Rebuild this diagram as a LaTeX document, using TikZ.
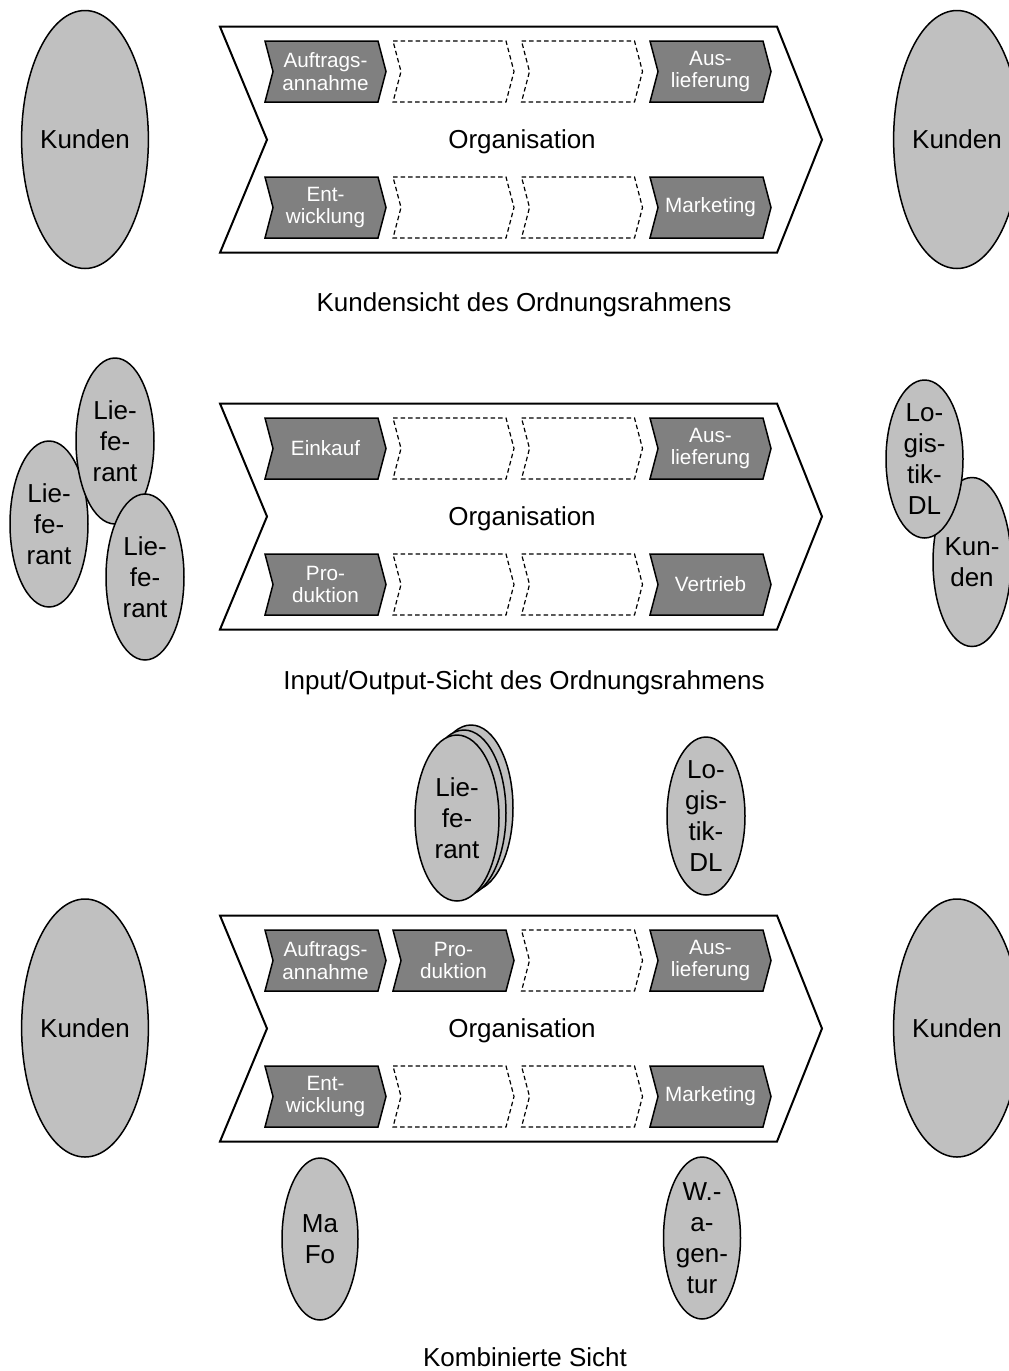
\documentclass[tikz,border=0pt]{standalone}
\usepackage{fontspec}
\setmainfont{Liberation Sans}
\usetikzlibrary{shapes.geometric}
\definecolor{boxgray}{HTML}{808080}
\definecolor{ovalgray}{HTML}{C0C0C0}
\tikzset{
  frame/.style={draw=black, line width=2pt, fill=white, line join=miter},
  activity/.style={draw=black, line width=1.5pt, fill=boxgray, line join=miter},
  placeholder/.style={draw=black, line width=1.2pt, dash pattern=on 4.5pt off 3pt, fill=white},
  boxtext/.style={text=white, font=\fontsize{20.7}{22.7}\selectfont, align=center, inner sep=0pt},
  oval/.style={ellipse, draw=black, line width=1.5pt, fill=ovalgray, inner sep=0pt,
    font=\fontsize{26}{31}\selectfont, align=center},
  bigtext/.style={font=\fontsize{26}{31}\selectfont, inner sep=0pt},
  caption/.style={font=\fontsize{26}{31}\selectfont, inner sep=0pt, anchor=base},
}
% process step: #1 name, #2 left x, #3 centre y, #4 style, #5 label
\newcommand\procstep[5]{%
  \draw[#4] (#2,#3-30.5) -- ++(113,0) -- ++(8,30.5) -- ++(-8,30.5) -- ++(-113,0) -- ++(8,-30.5) -- cycle;
  \node[boxtext] (#1) at (#2+60.5,#3) {#5};}
% organisation arrow: #1 name, #2 centre y
\newcommand\orgarrow[2]{%
  \draw[frame] (220,#2-113) -- (777,#2-113) -- (822,#2) -- (777,#2+113) -- (220,#2+113) -- (267,#2) -- cycle;
  \node[bigtext] (#1) at (522,#2+1.8) {Organisation};}
\begin{document}
\begin{tikzpicture}[x=1pt,y=-1pt]
\clip (0,0) rectangle (1009,1371);
\fill[white] (0,0) rectangle (1009,1371);

% ---------- Kundensicht ----------
\node[oval, minimum width=120pt, minimum height=258pt] (kundenLa) at (85,139.5) {Kunden};
\node[oval, minimum width=120pt, minimum height=258pt] (kundenRa) at (957,139.5) {Kunden};
\orgarrow{orga}{139.7}
\procstep{a11}{265}{71.5}{activity}{Auftrags-\\annahme}
\procstep{a12}{393}{71.5}{placeholder}{}
\procstep{a13}{521.5}{71.5}{placeholder}{}
\procstep{a14}{650}{71.5}{activity}{Aus-\\lieferung}
\procstep{a21}{265}{207.5}{activity}{Ent-\\wicklung}
\procstep{a22}{393}{207.5}{placeholder}{}
\procstep{a23}{521.5}{207.5}{placeholder}{}
\procstep{a24}{650}{207.5}{activity}{Marketing}
\node[caption] (capa) at (524,311.7) {Kundensicht des Ordnungsrahmens};

% ---------- Input/Output-Sicht ----------
\node[oval, minimum width=78pt, minimum height=166pt] (liefL) at (49,524) {Lie-\\fe-\\rant};
\node[oval, minimum width=78pt, minimum height=166pt] (liefT) at (115,441) {Lie-\\fe-\\rant};
\node[oval, minimum width=78pt, minimum height=166pt] (liefR) at (145,577) {Lie-\\fe-\\rant};
\node[oval, minimum width=78pt, minimum height=169pt] (kundenRb) at (972,562) {Kun-\\den};
\node[oval, minimum width=77pt, minimum height=158pt] (logb) at (924.5,459) {Lo-\\gis-\\tik-\\DL};
\orgarrow{orgb}{516.5}
\procstep{b11}{265}{448.5}{activity}{Einkauf}
\procstep{b12}{393}{448.5}{placeholder}{}
\procstep{b13}{521.5}{448.5}{placeholder}{}
\procstep{b14}{650}{448.5}{activity}{Aus-\\lieferung}
\procstep{b21}{265}{584.5}{activity}{Pro-\\duktion}
\procstep{b22}{393}{584.5}{placeholder}{}
\procstep{b23}{521.5}{584.5}{placeholder}{}
\procstep{b24}{650}{584.5}{activity}{Vertrieb}
\node[caption] (capb) at (524,689) {Input/Output-Sicht des Ordnungsrahmens};

% ---------- Kombinierte Sicht ----------
\node[oval, minimum width=84pt, minimum height=166pt] (liefc3) at (471,808) {};
\node[oval, minimum width=84pt, minimum height=166pt] (liefc2) at (464,813) {};
\node[oval, minimum width=84pt, minimum height=166pt] (liefc) at (457,818) {Lie-\\fe-\\rant};
\node[oval, minimum width=78pt, minimum height=158pt] (logc) at (706,816) {Lo-\\gis-\\tik-\\DL};
\node[oval, minimum width=120pt, minimum height=258pt] (kundenLc) at (85,1028) {Kunden};
\node[oval, minimum width=120pt, minimum height=258pt] (kundenRc) at (957,1028) {Kunden};
\orgarrow{orgc}{1028.5}
\procstep{c11}{265}{960.5}{activity}{Auftrags-\\annahme}
\procstep{c12}{393}{960.5}{activity}{Pro-\\duktion}
\procstep{c13}{521.5}{960.5}{placeholder}{}
\procstep{c14}{650}{960.5}{activity}{Aus-\\lieferung}
\procstep{c21}{265}{1096.5}{activity}{Ent-\\wicklung}
\procstep{c22}{393}{1096.5}{placeholder}{}
\procstep{c23}{521.5}{1096.5}{placeholder}{}
\procstep{c24}{650}{1096.5}{activity}{Marketing}
\node[oval, minimum width=76pt, minimum height=162pt] (mafo) at (320,1239) {Ma\\Fo};
\node[oval, minimum width=77pt, minimum height=162pt] (wagentur) at (702,1238) {W.-\\a-\\gen-\\tur};
\node[caption] (capc) at (525,1366.7) {Kombinierte Sicht};
\end{tikzpicture}
\end{document}
